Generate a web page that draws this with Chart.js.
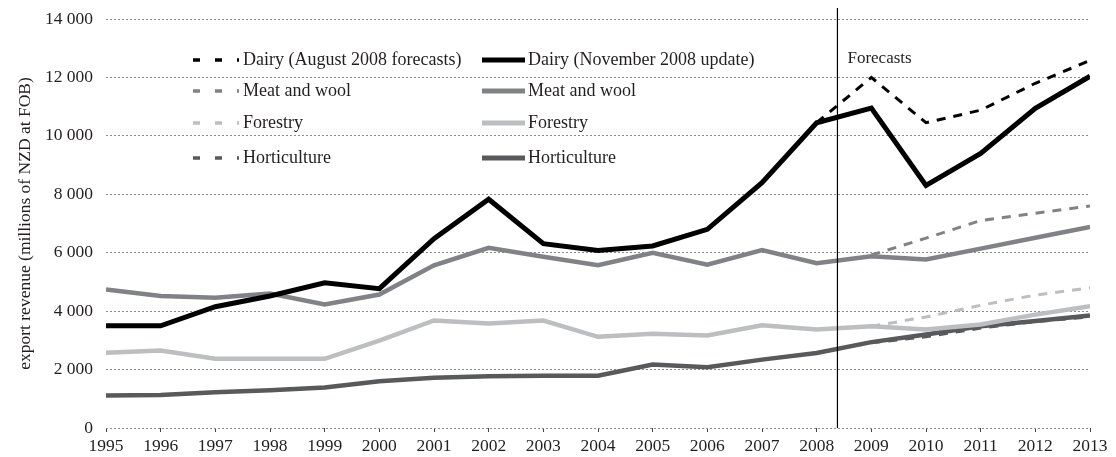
<!DOCTYPE html>
<html>
<head>
<meta charset="utf-8">
<title>Export revenue</title>
<script src="https://cdn.jsdelivr.net/npm/chart.js@4.4.1/dist/chart.umd.min.js"></script>
<style>
  html, body { margin: 0; padding: 0; background: #fff; }
  #wrap { width: 1116px; height: 457px; position: relative; }
</style>
</head>
<body>
<div id="wrap"><canvas id="grafico"></canvas></div>
<script>
// years on the x axis
const years = [1995, 1996, 1997, 1998, 1999, 2000, 2001, 2002, 2003, 2004,
               2005, 2006, 2007, 2008, 2009, 2010, 2011, 2012, 2013];

// November 2008 update (solid lines)
const dairyNov    = [3500, 3500, 4150, 4520, 4970, 4770, 6480, 7830, 6310, 6080,
                     6230, 6800, 8400, 10450, 10950, 8300, 9400, 10940, 12040];
const meatNov     = [4740, 4520, 4460, 4600, 4230, 4570, 5570, 6170, 5860, 5570,
                     6000, 5590, 6090, 5640, 5880, 5770, 6140, 6510, 6880];
const forestryNov = [2580, 2650, 2370, 2370, 2370, 2990, 3680, 3580, 3680, 3120,
                     3230, 3170, 3520, 3370, 3480, 3370, 3540, 3880, 4170];
const hortiNov    = [1110, 1130, 1220, 1290, 1390, 1600, 1720, 1770, 1790, 1790,
                     2170, 2080, 2340, 2570, 2940, 3200, 3480, 3660, 3850];

// August 2008 forecasts (dashed lines)
const dairyAug    = [null, null, null, null, null, null, null, null, null, null,
                     null, null, null, 10450, 12000, 10450, 10880, 11800, 12580];
const meatAug     = [null, null, null, null, null, null, null, null, null, null,
                     null, null, null, null, 5920, 6500, 7100, 7350, 7600];
const forestryAug = [null, null, null, null, null, null, null, null, null, null,
                     null, null, null, null, 3480, 3800, 4200, 4550, 4800];
const hortiAug    = [null, null, null, null, null, null, null, null, null, null,
                     null, null, null, null, 2920, 3120, 3420, 3640, 3800];

const yTicks = [0, 2000, 4000, 6000, 8000, 10000, 12000, 14000];
const forecastStart = 2008.38;
const forecastLabel = 'Forecasts';

const FUENTE = "'Liberation Serif', 'DejaVu Serif', serif";
const TEXTO = '#231f20';

const colores = {
    dairy: '#000000',
    meat: '#808285',
    forestry: '#bcbec0',
    horti: '#58595b'
};

function puntos(valores) {
    return years.map(function (y, i) { return { x: y, y: valores[i] }; });
}

function serieSolida(label, valores, color, ancho) {
    return {
        label: label,
        data: puntos(valores),
        borderColor: color,
        backgroundColor: color,
        borderWidth: ancho,
        pointRadius: 0,
        tension: 0,
        fill: false,
        spanGaps: false
    };
}

function serieDiscontinua(label, valores, color) {
    return {
        label: label,
        data: puntos(valores),
        borderColor: color,
        backgroundColor: color,
        borderWidth: 3,
        borderDash: [9, 8],
        pointRadius: 0,
        tension: 0,
        fill: false,
        spanGaps: false
    };
}

// solid lines first so they are drawn on top
const datasets = [
    serieSolida('Dairy (November 2008 update)', dairyNov, colores.dairy, 5),
    serieSolida('Meat and wool', meatNov, colores.meat, 4.5),
    serieSolida('Forestry', forestryNov, colores.forestry, 4.5),
    serieSolida('Horticulture', hortiNov, colores.horti, 4.5),
    serieDiscontinua('Dairy (August 2008 forecasts)', dairyAug, colores.dairy),
    serieDiscontinua('Meat and wool', meatAug, colores.meat),
    serieDiscontinua('Forestry', forestryAug, colores.forestry),
    serieDiscontinua('Horticulture', hortiAug, colores.horti)
];

// vertical "Forecasts" marker
const lineaPronostico = {
    id: 'lineaPronostico',
    afterDatasetsDraw: function (chart) {
        const ctx = chart.ctx;
        const x = chart.scales.x.getPixelForValue(forecastStart);
        const area = chart.chartArea;
        ctx.save();
        ctx.strokeStyle = '#000';
        ctx.lineWidth = 1.2;
        ctx.beginPath();
        ctx.moveTo(x, area.top - 11);
        ctx.lineTo(x, area.bottom);
        ctx.stroke();
        ctx.fillStyle = TEXTO;
        ctx.font = '17px ' + FUENTE;
        ctx.textAlign = 'left';
        ctx.textBaseline = 'middle';
        ctx.fillText(forecastLabel, x + 10, area.top + 40);
        ctx.restore();
    }
};

// two column legend inside the plot
const leyenda = {
    id: 'leyenda',
    afterDraw: function (chart) {
        const ctx = chart.ctx;
        const ds = chart.data.datasets;
        const filas = [60, 91, 123, 158];
        ctx.save();
        ctx.font = '18px ' + FUENTE;
        ctx.textBaseline = 'middle';
        ctx.textAlign = 'left';
        for (let i = 0; i < 4; i++) {
            const y = filas[i];
            const solida = ds[i];
            const disc = ds[i + 4];

            // dashed sample
            ctx.strokeStyle = disc.borderColor;
            ctx.lineWidth = 3.5;
            ctx.setLineDash([7, 15]);
            ctx.beginPath();
            ctx.moveTo(193, y);
            ctx.lineTo(239, y);
            ctx.stroke();
            ctx.setLineDash([]);
            ctx.fillStyle = TEXTO;
            ctx.fillText(disc.label, 243, y);

            // solid sample
            ctx.strokeStyle = solida.borderColor;
            ctx.lineWidth = 5;
            ctx.beginPath();
            ctx.moveTo(482, y);
            ctx.lineTo(525, y);
            ctx.stroke();
            ctx.fillText(solida.label, 528, y);
        }
        ctx.restore();
    }
};

function miles(v) {
    if (v === 0) return '0';
    const s = String(v);
    return s.slice(0, s.length - 3) + ' ' + s.slice(s.length - 3);
}

document.addEventListener('DOMContentLoaded', function () {
    const canvas = document.getElementById('grafico');
    const ctx = canvas.getContext('2d');

    new Chart(ctx, {
        type: 'line',
        data: { datasets: datasets },
        options: {
            responsive: true,
            maintainAspectRatio: false,
            animation: false,
            layout: { padding: { left: 15, right: 26, top: 19, bottom: 0 } },
            plugins: {
                legend: { display: false },
                tooltip: { enabled: false }
            },
            scales: {
                x: {
                    type: 'linear',
                    min: years[0],
                    max: years[years.length - 1],
                    border: { display: false },
                    grid: {
                        drawOnChartArea: false,
                        drawTicks: true,
                        tickLength: 4,
                        tickColor: '#444',
                        lineWidth: 1
                    },
                    afterFit: function (scale) { scale.height = 29; },
                    afterBuildTicks: function (scale) {
                        scale.ticks = years.map(function (y) { return { value: y }; });
                    },
                    ticks: {
                        padding: 4,
                        maxRotation: 0,
                        autoSkip: false,
                        color: TEXTO,
                        font: { family: FUENTE, size: 17.5 },
                        callback: function (v) { return String(v); }
                    }
                },
                y: {
                    min: 0,
                    max: 14000,
                    border: { display: false, dash: [2, 2] },
                    afterFit: function (scale) { scale.width = 91; },
                    afterBuildTicks: function (scale) {
                        scale.ticks = yTicks.map(function (v) { return { value: v }; });
                    },
                    grid: {
                        drawTicks: false,
                        color: '#8a8a8a',
                        lineWidth: 1
                    },
                    ticks: {
                        padding: 13,
                        color: TEXTO,
                        font: { family: FUENTE, size: 17.5, lineHeight: 0.6 },
                        callback: function (v) { return miles(v); }
                    },
                    title: {
                        display: true,
                        text: 'export revenue (millions of NZD at FOB)',
                        color: TEXTO,
                        font: { family: FUENTE, size: 17.5 },
                        padding: { top: 0, bottom: 0 }
                    }
                }
            }
        },
        plugins: [lineaPronostico, leyenda]
    });
});
</script>
</body>
</html>
